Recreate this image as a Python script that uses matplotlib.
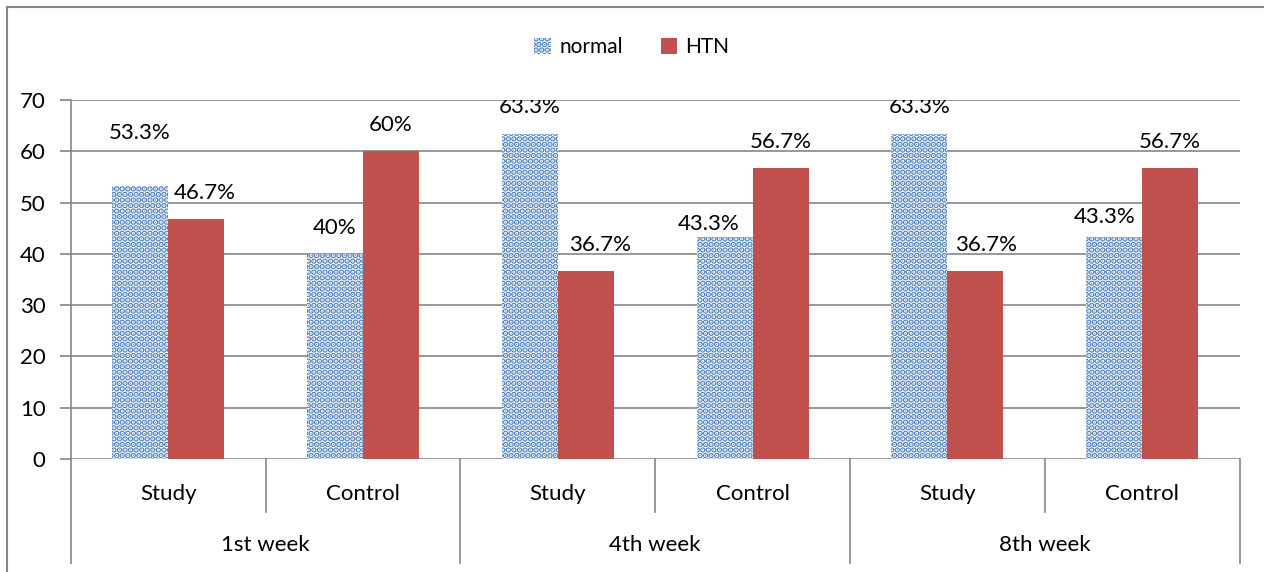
import matplotlib.pyplot as plt
import numpy as np
from matplotlib.patches import Patch
from matplotlib.lines import Line2D

plt.rcParams['font.family'] = ['Lato', 'DejaVu Sans']
plt.rcParams['hatch.linewidth'] = 3.0

# data
groups = ['Study', 'Control', 'Study', 'Control', 'Study', 'Control']
weeks = ['1st week', '4th week', '8th week']
normal = [53.3, 40, 63.3, 43.3, 63.3, 43.3]
htn = [46.7, 60, 36.7, 56.7, 36.7, 56.7]
normal_txt = ['53.3%', '40%', '63.3%', '43.3%', '63.3%', '43.3%']
htn_txt = ['46.7%', '60%', '36.7%', '56.7%', '36.7%', '56.7%']

# label placement (as in the source chart, labels were moved by hand)
normal_lab_y = [63.6, 45.0, 68.6, 45.8, 68.6, 47.2]
normal_lab_dx = [0, 0, 0, -0.08, 0, -0.05]
htn_lab_y = [51.9, 65.1, 41.7, 61.8, 41.7, 61.8]
htn_lab_dx = [0.046, 0, 0.072, 0, 0.056, 0]

BLUE = '#4F81BD'
RED = '#C0504D'
GRAY = '#868686'

fig = plt.figure(figsize=(12.64, 5.72), dpi=100)
ax = fig.add_axes([70.7 / 1264, 1 - 459 / 572, (1239.7 - 70.7) / 1264, 359 / 572])

x = np.arange(len(groups))
w = 0.2875
ax.bar(x - w / 2, normal, w, facecolor='white', edgecolor=BLUE, hatch='...', linewidth=0, zorder=3)
ax.bar(x + w / 2, htn, w, color=RED, linewidth=0, zorder=3)

for i in range(len(groups)):
    ax.text(x[i] - w / 2 + normal_lab_dx[i], normal_lab_y[i], normal_txt[i],
            ha='center', va='center', fontsize=16, zorder=4, clip_on=True)
    ax.text(x[i] + w / 2 + htn_lab_dx[i], htn_lab_y[i], htn_txt[i],
            ha='center', va='center', fontsize=16, zorder=4, clip_on=True)

ax.set_xlim(-0.5, len(groups) - 0.5)
ax.set_ylim(0, 70)
ax.set_yticks(range(0, 71, 10))
ax.yaxis.grid(True, color=GRAY, linewidth=1.2)
ax.set_axisbelow(True)
ax.tick_params(axis='y', length=8, width=1.2, color=GRAY, pad=10, labelsize=16)
ax.set_xticks([])
for s in ['top', 'right', 'bottom', 'left']:
    ax.spines[s].set_visible(False)

# axis line + category separators
trans = ax.get_xaxis_transform()
ax.add_line(Line2D([-0.5, -0.5], [1, -0.29], transform=trans, color=GRAY, lw=1.2, clip_on=False))
for b in np.arange(0.5, len(groups), 1):
    bottom = -0.29 if (b + 0.5) % 2 == 0 else -0.1476
    ax.add_line(Line2D([b, b], [0, bottom], transform=trans, color=GRAY, lw=1.2, clip_on=False))

for i, g in enumerate(groups):
    ax.text(x[i], -0.0975, g, transform=trans, ha='center', va='center', fontsize=16)
for j, wk in enumerate(weeks):
    ax.text(2 * j + 0.5, -0.2396, wk, transform=trans, ha='center', va='center', fontsize=16)

# outer chart frame (top and left edges visible)
fig.add_artist(Line2D([7 / 1264, 1], [1 - 7 / 572, 1 - 7 / 572], transform=fig.transFigure, color=GRAY, lw=1.5))
fig.add_artist(Line2D([7 / 1264, 7 / 1264], [0, 1 - 7 / 572], transform=fig.transFigure, color=GRAY, lw=1.5))

handles = [Patch(facecolor='white', edgecolor=BLUE, hatch='...', linewidth=0, label='normal'),
           Patch(facecolor=RED, label='HTN')]
fig.legend(handles=handles, loc='center', bbox_to_anchor=(0.5, 1 - 47 / 572), ncol=2,
           frameon=False, fontsize=15, handlelength=0.8, handleheight=0.8,
           handletextpad=0.4, columnspacing=1.8)

fig.savefig('out.png', dpi=100)
